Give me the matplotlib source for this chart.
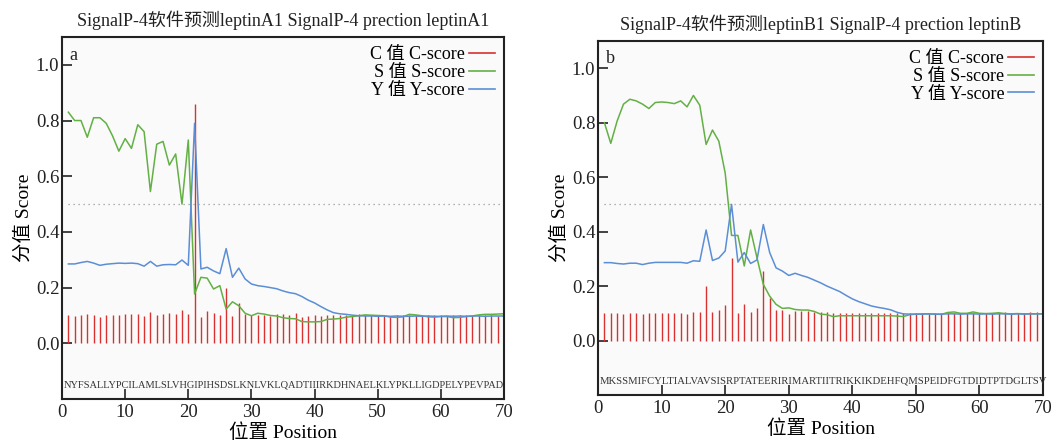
import numpy as np
import matplotlib
matplotlib.use("Agg")
import matplotlib.pyplot as plt
from matplotlib.lines import Line2D

plt.rcParams['font.family'] = ['Liberation Serif', 'Noto Sans CJK SC']
plt.rcParams['axes.unicode_minus'] = False

# ---- data ----
pos_lines = np.arange(1, 71)
pos_bars = np.arange(1, 70)

seq_a = "NYFSALLYPCILAMLSLVHGIPIHSDSLKNLVKLQADTIIIRKDHNAELKLYPKLLIGDPELYPEVPAD"
seq_b = "MKSSMIFCYLTIALVAVSISRPTATEERIRIMARTIITRIKKIKDEHFQMSPEIDFGTDIDTPTDGLTSV"

title_a = "SignalP-4软件预测leptinA1 SignalP-4 prection leptinA1"
title_b = "SignalP-4软件预测leptinB1 SignalP-4 prection leptinB"

c_a = [0.101, 0.099, 0.100, 0.104, 0.100, 0.096, 0.100, 0.100, 0.100, 0.104,
       0.107, 0.105, 0.099, 0.111, 0.100, 0.104, 0.108, 0.104, 0.120, 0.105,
       0.860, 0.096, 0.117, 0.108, 0.100, 0.198, 0.099, 0.145, 0.105, 0.100,
       0.100, 0.100, 0.099, 0.105, 0.106, 0.100, 0.110, 0.096, 0.098, 0.100,
       0.098, 0.100, 0.101, 0.102, 0.100, 0.099, 0.104, 0.101, 0.100, 0.098,
       0.100, 0.099, 0.100, 0.101, 0.102, 0.100, 0.099, 0.100, 0.101, 0.100,
       0.099, 0.100, 0.101, 0.100, 0.099, 0.100, 0.101, 0.100, 0.099]
s_a = [0.83, 0.80, 0.80, 0.74, 0.81, 0.81, 0.79, 0.745, 0.69, 0.735,
       0.70, 0.785, 0.76, 0.545, 0.715, 0.725, 0.64, 0.68, 0.50, 0.73,
       0.177, 0.237, 0.234, 0.195, 0.207, 0.123, 0.149, 0.135, 0.108, 0.099,
       0.108, 0.105, 0.100, 0.098, 0.092, 0.089, 0.088, 0.078, 0.077, 0.077,
       0.078, 0.086, 0.087, 0.089, 0.094, 0.096, 0.099, 0.102, 0.101, 0.100,
       0.099, 0.094, 0.093, 0.095, 0.104, 0.102, 0.099, 0.095, 0.094, 0.096,
       0.096, 0.092, 0.093, 0.096, 0.098, 0.102, 0.104, 0.104, 0.105, 0.106]
y_a = [0.285, 0.285, 0.290, 0.294, 0.288, 0.280, 0.284, 0.286, 0.288, 0.287,
       0.288, 0.286, 0.277, 0.294, 0.277, 0.282, 0.283, 0.282, 0.299, 0.280,
       0.790, 0.267, 0.273, 0.260, 0.250, 0.340, 0.237, 0.270, 0.231, 0.213,
       0.207, 0.204, 0.200, 0.196, 0.188, 0.182, 0.178, 0.168, 0.155, 0.145,
       0.132, 0.120, 0.110, 0.106, 0.104, 0.101, 0.099, 0.098, 0.098, 0.097,
       0.098, 0.097, 0.098, 0.097, 0.097, 0.098, 0.097, 0.098, 0.097, 0.097,
       0.098, 0.097, 0.098, 0.097, 0.098, 0.098, 0.097, 0.098, 0.098, 0.098]

c_b = [0.102, 0.102, 0.102, 0.098, 0.102, 0.102, 0.098, 0.102, 0.102, 0.102,
       0.102, 0.102, 0.102, 0.098, 0.104, 0.105, 0.200, 0.104, 0.112, 0.130,
       0.304, 0.100, 0.135, 0.104, 0.120, 0.254, 0.157, 0.114, 0.112, 0.098,
       0.110, 0.108, 0.108, 0.104, 0.105, 0.104, 0.100, 0.102, 0.100, 0.101,
       0.100, 0.102, 0.100, 0.101, 0.100, 0.100, 0.101, 0.100, 0.100, 0.100,
       0.100, 0.101, 0.100, 0.100, 0.101, 0.102, 0.100, 0.101, 0.100, 0.100,
       0.100, 0.101, 0.100, 0.103, 0.100, 0.100, 0.100, 0.104, 0.104]
s_b = [0.80, 0.724, 0.806, 0.868, 0.886, 0.880, 0.868, 0.852, 0.874, 0.876,
       0.874, 0.870, 0.880, 0.858, 0.900, 0.864, 0.720, 0.773, 0.732, 0.615,
       0.386, 0.386, 0.274, 0.406, 0.304, 0.206, 0.163, 0.133, 0.118, 0.120,
       0.114, 0.112, 0.112, 0.107, 0.097, 0.095, 0.088, 0.091, 0.091, 0.091,
       0.091, 0.091, 0.091, 0.091, 0.091, 0.091, 0.090, 0.088, 0.095, 0.097,
       0.098, 0.098, 0.097, 0.096, 0.103, 0.105, 0.100, 0.100, 0.105, 0.100,
       0.099, 0.100, 0.102, 0.099, 0.098, 0.099, 0.098, 0.098, 0.098, 0.098]
y_b = [0.286, 0.286, 0.283, 0.281, 0.284, 0.284, 0.279, 0.284, 0.287, 0.287,
       0.287, 0.287, 0.287, 0.284, 0.293, 0.291, 0.406, 0.294, 0.303, 0.329,
       0.500, 0.288, 0.323, 0.283, 0.296, 0.426, 0.323, 0.267, 0.255, 0.239,
       0.247, 0.239, 0.232, 0.222, 0.212, 0.200, 0.190, 0.180, 0.166, 0.153,
       0.143, 0.135, 0.127, 0.122, 0.118, 0.113, 0.104, 0.098, 0.097, 0.097,
       0.097, 0.098, 0.097, 0.097, 0.098, 0.098, 0.097, 0.098, 0.098, 0.097,
       0.098, 0.097, 0.098, 0.098, 0.097, 0.098, 0.097, 0.098, 0.098, 0.098]

RED = "#d93030"
GREEN = "#63b045"
BLUE = "#5b8ed6"


def draw_panel(ax, letter, title, seq, c, s, y):
    ax.set_facecolor("#fafafa")
    ax.vlines(pos_bars, 0, c, color=RED, lw=1.0)
    ax.plot(pos_lines, s, color=GREEN, lw=1.1)
    ax.plot(pos_lines, y, color=BLUE, lw=1.1)
    ax.plot([1, 70], [0.5, 0.5], ls=(0, (1, 3)), color="#999999", lw=0.9)

    ax.set_xlim(0, 70)
    ax.set_ylim(-0.2, 1.1)
    ax.set_xticks(range(0, 71, 10))
    ax.set_yticks([0.0, 0.2, 0.4, 0.6, 0.8, 1.0])
    ax.yaxis.set_major_formatter(matplotlib.ticker.FormatStrFormatter("%.1f"))
    ax.tick_params(direction="in", length=7, width=1.2, labelsize=13.5, colors="#222222")
    ax.tick_params(axis="y", pad=2)
    for sp in ax.spines.values():
        sp.set_linewidth(1.5)
        sp.set_color("#222222")

    ax.set_title(title, fontsize=13, pad=8, color="#222222")
    ax.set_xlabel("位置 Position", fontsize=14, labelpad=2)
    ax.set_ylabel("分值 Score", fontsize=14, labelpad=2)
    ax.text(1.2, 1.035, letter, fontsize=13, va="center", color="#222222")

    handles = [Line2D([], [], color=RED, lw=1.2),
               Line2D([], [], color=GREEN, lw=1.2),
               Line2D([], [], color=BLUE, lw=1.2)]
    ax.legend(handles, ["C 值 C-score", "S 值 S-score", "Y 值 Y-score"],
              loc="upper right", frameon=False, markerfirst=False,
              fontsize=13, handlelength=1.45, handletextpad=0.2,
              labelspacing=0.05, borderaxespad=0.1)

    t = ax.text(0.2, -0.148, seq, fontsize=8, va="center", ha="left", color="#333333")
    return t


fig = plt.figure(figsize=(10.57, 4.42), dpi=100)
ax1 = fig.add_axes([0.0587, 0.0973, 0.418, 0.819])
ax2 = fig.add_axes([0.5658, 0.1063, 0.421, 0.801])

t1 = draw_panel(ax1, "a", title_a, seq_a, c_a, s_a, y_a)
t2 = draw_panel(ax2, "b", title_b, seq_b, c_b, s_b, y_b)

# stretch the sequence strings across the axis width
fig.canvas.draw()
r = fig.canvas.get_renderer()
for ax, t in [(ax1, t1), (ax2, t2)]:
    x0 = ax.transData.transform((0.2, 0))[0]
    x1 = ax.transData.transform((70.6, 0))[0]
    w = t.get_window_extent(r).width
    t.set_fontsize(t.get_fontsize() * (x1 - x0) / w)

fig.savefig("out.png", dpi=100, facecolor="white")
